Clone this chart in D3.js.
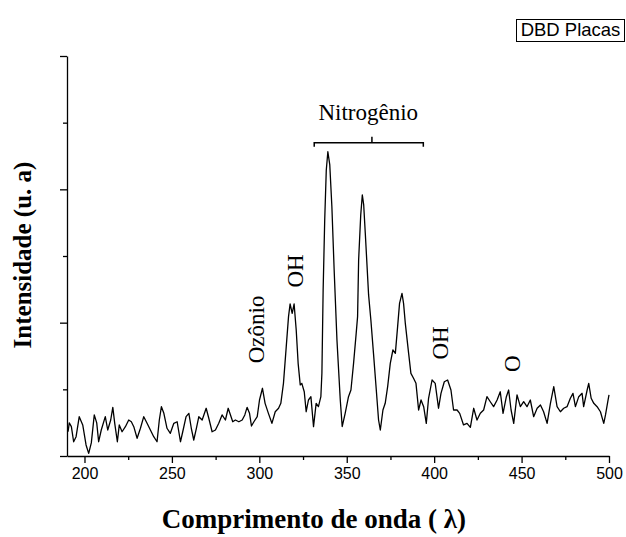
<!DOCTYPE html>
<html>
<head>
<meta charset="utf-8">
<script src="https://cdn.jsdelivr.net/npm/d3@7"></script>
<style>
  body { margin: 0; background: #fff; }
  svg { display: block; }
</style>
</head>
<body>
<div id="chart"></div>
<script>
// spectrum (wavelength in nm, intensity in arbitrary units)
var wavelength = [190.6,191.3,192.5,193.8,195.2,197.0,199.0,200.9,202.4,203.9,205.6,207.0,208.1,209.6,211.9,213.3,215.0,216.2,217.3,218.8,
  219.9,221.5,223.4,225.3,226.8,228.2,230.1,232.0,233.9,235.8,237.7,239.6,241.5,242.8,244.0,245.4,247.2,249.1,251.1,253.0,
  254.9,256.2,258.1,259.7,261.1,262.5,264.0,265.4,267.3,269.6,271.1,273.0,274.9,276.8,278.7,280.6,282.2,283.5,284.8,286.3,
  288.3,290.2,291.7,293.0,294.4,295.5,296.9,298.8,300.1,301.8,303.3,305.2,307.2,309.1,311.0,312.3,313.8,315.4,316.7,317.6,
  318.8,319.9,321.1,322.2,323.4,324.3,325.7,326.8,328.1,329.5,331.0,332.5,333.8,335.2,335.8,336.5,337.4,338.3,339.2,340.3,
  341.5,342.8,344.4,346.3,347.4,349.1,351.0,352.4,353.9,355.4,356.2,356.8,358.0,358.9,359.7,360.6,362.5,363.8,365.3,366.9,
  368.2,369.2,370.7,372.0,373.4,374.9,376.4,377.8,379.1,380.2,381.6,382.5,383.5,385.4,386.7,388.2,389.6,391.1,392.5,394.0,
  395.5,396.8,398.8,400.6,402.5,403.9,405.8,407.7,409.6,411.1,413.1,414.6,416.8,418.8,420.7,422.6,424.5,426.4,428.3,430.2,
  432.1,434.0,436.0,437.8,439.4,441.3,442.6,444.0,445.5,447.4,449.3,451.2,453.1,455.0,456.9,458.9,460.8,462.6,464.6,466.5,
  468.4,470.3,472.2,474.1,476.0,477.9,479.4,480.8,482.7,484.6,485.5,487.5,488.4,489.8,491.3,493.2,495.1,497.0,498.0,499.3,500.0];
var intensity = [182,248,220,107,145,295,233,83,20,98,308,248,107,195,295,195,270,365,245,107,
  233,182,220,270,257,220,133,208,295,245,195,145,107,270,370,320,208,170,245,257,
  107,182,295,320,208,120,208,295,270,358,283,182,195,245,308,270,358,308,257,270,
  257,270,308,365,320,225,257,295,420,508,395,320,245,332,358,395,545,820,1045,1140,
  1070,1140,945,695,533,545,482,332,420,445,220,395,370,445,622,1245,1770,2145,2282,2183,
  1870,1395,870,420,221,320,445,495,695,920,1045,1470,1808,1958,1883,1673,1208,1020,770,495,
  270,195,345,395,520,695,795,770,970,1145,1220,1145,995,770,620,583,545,345,420,370,
  245,433,570,545,358,470,557,570,495,345,345,320,233,245,215,358,270,320,345,445,
  407,370,420,482,320,445,495,345,245,458,370,407,370,420,295,358,383,332,245,395,
  520,370,332,358,370,433,470,370,445,470,370,495,545,433,395,370,332,245,308,407,458];

var xMajor = [200, 250, 300, 350, 400, 450, 500];
var xMinor = [225, 275, 325, 375, 425, 475];
var yMajor = [0, 1000, 2000, 3000];
var yMinor = [500, 1500, 2500];

// peak labels: [text, wavelength, intensity]
var peakLabels = [["Ozônio", 298.2, 949], ["OH", 320.3, 1388], ["OH", 403.5, 848], ["O", 444.2, 692]];

var width = 626, height = 537;
var serif = "'Liberation Serif', 'Times New Roman', serif";
var sans = "'Liberation Sans', Arial, sans-serif";

var svg = d3.select("#chart").append("svg")
  .attr("width", width)
  .attr("height", height);

var x = d3.scaleLinear().domain([190, 500]).range([67, 609]);
var y = d3.scaleLinear().domain([0, 3000]).range([456, 56]);

//minor ticks first, majors over them
svg.append("g")
  .attr("transform", "translate(0,456)")
  .call(d3.axisBottom(x).tickValues(xMinor).tickSize(4).tickFormat(""))
  .call(function(g){ g.select(".domain").remove(); });

var xAxis = svg.append("g")
  .attr("transform", "translate(0,456)")
  .call(d3.axisBottom(x).tickValues(xMajor).tickSize(7).tickSizeOuter(0).tickPadding(5));
xAxis.selectAll("text")
  .attr("font-family", sans)
  .attr("font-size", 16)
  .attr("fill", "#000");

svg.append("g")
  .attr("transform", "translate(67,0)")
  .call(d3.axisLeft(y).tickValues(yMinor).tickSize(4).tickFormat(""))
  .call(function(g){ g.select(".domain").remove(); });

svg.append("g")
  .attr("transform", "translate(67,0)")
  .call(d3.axisLeft(y).tickValues(yMajor).tickSize(7).tickSizeOuter(0).tickFormat(""));

svg.selectAll(".domain, .tick line")
  .attr("stroke", "#000")
  .attr("stroke-width", 1.3);

//spectrum
var points = wavelength.map(function(d, i){ return [d, intensity[i]]; });
var line = d3.line()
  .x(function(d){ return x(d[0]); })
  .y(function(d){ return y(d[1]); });

svg.append("path")
  .datum(points)
  .attr("d", line)
  .attr("fill", "none")
  .attr("stroke", "#000")
  .attr("stroke-width", 1.3)
  .attr("stroke-linejoin", "round");

//peak labels (rotated)
svg.selectAll(".peak")
  .data(peakLabels)
  .enter().append("text")
    .attr("class", "peak")
    .attr("transform", function(d){
      return "translate(" + x(d[1]) + "," + y(d[2]) + ") rotate(-90)";
    })
    .attr("text-anchor", "middle")
    .attr("dy", "0.35em")
    .attr("font-family", serif)
    .attr("font-size", 23)
    .attr("fill", "#000")
    .text(function(d){ return d[0]; });

//nitrogen bracket
var bx0 = x(331.4), bx1 = x(393.8), bxm = x(364.4);
var by = y(2350);
svg.append("path")
  .attr("d", "M" + bx0 + "," + (by + 4) + "V" + by + "H" + bx1 + "V" + (by + 4) +
             "M" + bxm + "," + by + "V" + (by - 6))
  .attr("fill", "none")
  .attr("stroke", "#000")
  .attr("stroke-width", 1.5);

svg.append("text")
  .attr("x", x(362.3))
  .attr("y", y(2520))
  .attr("text-anchor", "middle")
  .attr("font-family", serif)
  .attr("font-size", 23)
  .attr("fill", "#000")
  .text("Nitrogênio");

//legend box
svg.append("rect")
  .attr("x", 516.5)
  .attr("y", 19.5)
  .attr("width", 108)
  .attr("height", 22)
  .attr("fill", "#fff")
  .attr("stroke", "#000")
  .attr("stroke-width", 1);

svg.append("text")
  .attr("x", 570.5)
  .attr("y", 36)
  .attr("text-anchor", "middle")
  .attr("font-family", sans)
  .attr("font-size", 18.5)
  .attr("fill", "#000")
  .text("DBD Placas");

//axis titles
svg.append("text")
  .attr("transform", "translate(31,255) rotate(-90)")
  .attr("text-anchor", "middle")
  .attr("font-family", serif)
  .attr("font-weight", "bold")
  .attr("font-size", 25)
  .attr("fill", "#000")
  .text("Intensidade (u. a)");

svg.append("text")
  .attr("x", 314)
  .attr("y", 528)
  .attr("text-anchor", "middle")
  .attr("font-family", serif)
  .attr("font-weight", "bold")
  .attr("font-size", 27)
  .attr("fill", "#000")
  .text("Comprimento de onda ( λ)");
</script>
</body>
</html>
